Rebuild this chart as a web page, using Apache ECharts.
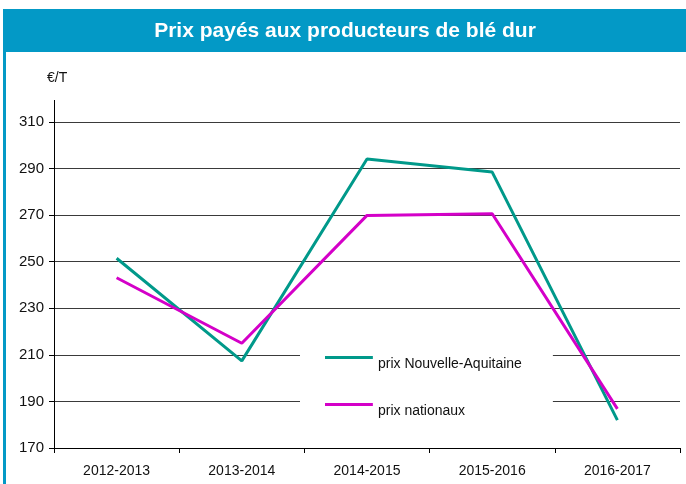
<!DOCTYPE html>
<html><head><meta charset="utf-8">
<script src="https://cdn.jsdelivr.net/npm/echarts@6/dist/echarts.min.js"></script>
<style>html,body{margin:0;padding:0;background:#fff}#c{width:686px;height:484px}</style>
</head><body><div id="c"></div>
<script>
const categories = ['2012-2013','2013-2014','2014-2015','2015-2016','2016-2017'];
const prixNA = [251.5, 207.4, 294.1, 288.5, 182.0];
const prixNat = [243.1, 215.0, 269.9, 270.6, 186.8];
const yTicks = {min:170, max:310, interval:20};

const chart = echarts.init(document.getElementById('c'), null, {renderer:'canvas'});
chart.setOption({
  animation:false,
  backgroundColor:'#fff',
  textStyle:{fontFamily:'Liberation Sans, Arial, sans-serif'},
  grid:{left:54, right:6, top:122, bottom:36, containLabel:false},
  graphic:[
    {type:'rect', shape:{x:3,y:9,width:690,height:43}, style:{fill:'#0399c6'}, z:10},
    {type:'text', x:345, y:31, style:{text:'Prix payés aux producteurs de blé dur', fill:'#fff', font:'bold 21px "Liberation Sans", Arial, sans-serif', textAlign:'center', textVerticalAlign:'middle'}, z:11},
    {type:'rect', shape:{x:3,y:9,width:3,height:480}, style:{fill:'#0399c6'}, z:10},
    {type:'text', x:47, y:78, style:{text:'€/T', fill:'#111', font:'14px "Liberation Sans", Arial, sans-serif', textVerticalAlign:'middle'}, z:11},
    {type:'line', shape:{x1:54.5,y1:100,x2:54.5,y2:122}, style:{stroke:'#000', lineWidth:1}, z:5}
  ],
  legend:{
    orient:'vertical', left:300, top:342,
    backgroundColor:'#fff',
    padding:[14,31,12,25],
    itemGap:30,
    itemWidth:48, itemHeight:17,
    icon:'path://M0,0h48v3h-48z M0,17h0.05v0.05h-0.05z',
    textStyle:{fontSize:14, color:'#111'},
    data:['prix Nouvelle-Aquitaine','prix nationaux']
  },
  xAxis:{
    type:'category', data:categories, boundaryGap:true,
    axisLine:{lineStyle:{color:'#000', width:1}},
    axisTick:{show:true, length:5, lineStyle:{color:'#000'}},
    axisLabel:{color:'#111', fontSize:14, margin:16}
  },
  yAxis:{
    type:'value', min:yTicks.min, max:yTicks.max, interval:yTicks.interval,
    axisLine:{show:true, lineStyle:{color:'#000', width:1}},
    axisTick:{show:true, length:5, lineStyle:{color:'#000'}},
    axisLabel:{color:'#111', fontSize:15, margin:10},
    splitLine:{show:true, lineStyle:{color:'#3a3a3a', width:1}}
  },
  series:[
    {name:'prix Nouvelle-Aquitaine', type:'line', data:prixNA, symbol:'none', lineStyle:{color:'#00998a', width:3}, itemStyle:{color:'#00998a'}, z:3},
    {name:'prix nationaux', type:'line', data:prixNat, symbol:'none', lineStyle:{color:'#d400c8', width:3}, itemStyle:{color:'#d400c8'}, z:3}
  ]
});
</script></body></html>
